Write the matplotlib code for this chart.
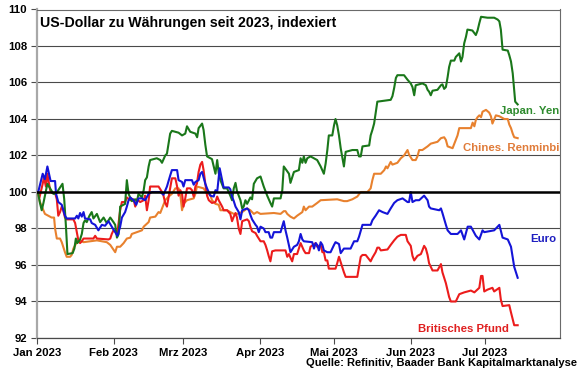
import matplotlib
matplotlib.use("Agg")
import matplotlib.pyplot as plt
import matplotlib.dates as mdates
from datetime import datetime

# ---- data: (days since 2023-01-01, index value) ----
yen = [(0.5,99.9),(1.2,99.4),(1.9,99.0),(2.6,99.4),(3.2,99.8),(4.2,100.45),(5.3,100.2),(6.6,99.9),(7.7,99.9),(8.6,100.1),(9.6,100.3),(10.3,100.45),(11,99.6),(11.7,98.1),(12.3,96.6),(14.4,96.65),(15.1,96.9),(15.7,97.45),(16.3,97.2),(17.4,97.4),(18.1,97.7),(18.8,98.3),(19.4,98.45),(20.1,98.35),(21.2,98.7),(22.1,98.9),(22.8,98.55),(24.2,98.8),(25.5,98.35),(26.9,98.6),(28.2,98.3),(29.6,98.6),(30.9,98.35),(31.6,98.2),(32.3,97.5),(33,97.7),(33.6,99.2),(35.6,99.35),(36.3,100.65),(37,99.9),(38.3,99.5),(39.7,99.6),(40.4,99.5),(41,99.9),(42.4,99.7),(43.1,100.1),(43.7,100.65),(44.4,100.8),(45.1,101.4),(45.7,101.75),(48.4,101.85),(49.8,101.75),(50.5,101.6),(51.8,102.0),(52.5,102.1),(53.8,103.2),(54.5,103.35),(57.2,103.25),(58.6,103.1),(59.9,103.2),(60.6,103.6),(61.9,103.3),(64,103.2),(64.7,103.0),(65.3,103.5),(66.7,103.75),(67.3,103.4),(68,102.6),(68.7,101.95),(70.7,101.8),(71.4,101.4),(72.1,101.0),(72.8,101.75),(73.4,101.05),(74.1,100.65),(75.4,100.2),(76.8,100.2),(78.1,99.8),(78.8,99.55),(79.5,100.2),(80.2,100.5),(80.8,100.05),(82.2,99.55),(82.9,99.1),(83.5,99.2),(84.2,99.55),(84.9,99.35),(86.2,99.7),(86.9,99.6),(87.6,100.45),(88.9,100.75),(90.3,100.85),(91.6,100.3),(93,99.8),(94.3,99.4),(95,99.2),(95.7,99.65),(98.4,99.65),(99.1,100.1),(99.7,101.4),(101.8,101.0),(102.4,100.5),(103.8,101.1),(105.8,101.2),(106.5,101.85),(107.2,101.6),(107.8,101.95),(108.5,101.6),(109.2,101.85),(110.5,101.95),(113.2,101.75),(114.6,101.4),(115.9,101.0),(116.6,101.55),(117.3,102.3),(117.9,103.1),(119.3,103.1),(120,103.65),(120.6,104.0),(121.3,103.65),(122,103.1),(122.7,102.4),(124,101.4),(124.7,102.2),(127.4,102.3),(129.4,102.3),(130.1,101.95),(130.8,101.95),(131.5,102.5),(134.2,102.55),(134.8,103.1),(135.5,103.4),(136.2,103.75),(136.8,104.3),(137.5,104.95),(142.9,105.05),(143.6,105.25),(144.3,105.7),(145,106.25),(145.6,106.4),(148.3,106.4),(149.7,106.15),(151,105.95),(151.7,105.75),(152.4,105.3),(153,105.85),(155.7,105.95),(157.1,105.85),(157.8,105.6),(158.4,105.5),(159.1,105.3),(159.8,105.55),(161.8,105.6),(163.2,105.85),(163.8,105.9),(164.5,105.65),(165.2,105.75),(165.9,106.3),(166.5,106.85),(167.2,107.2),(168.6,107.2),(169.2,107.4),(170.6,107.6),(171.3,107.15),(171.9,107.4),(172.6,108.15),(173.3,108.5),(173.9,108.9),(175.9,108.85),(177.3,108.6),(178,108.85),(178.7,109.25),(179.4,109.6),(182,109.55),(184.7,109.55),(186.1,109.45),(186.8,109.35),(187.4,108.9),(188.1,107.8),(190.2,107.75),(190.8,107.5),(191.5,107.15),(192.2,106.5),(192.8,105.6),(193.2,104.95),(194.2,104.8)]

cny = [(0.5,99.9),(1.2,99.45),(2.6,99.0),(3.2,98.8),(5.9,98.6),(6.9,98.6),(7.3,98.0),(8,97.45),(9.3,97.45),(10,97.25),(10.6,97.0),(11.3,96.7),(12,96.45),(13.4,96.45),(14,96.55),(14.7,96.9),(16.1,97.25),(17.4,97.35),(18.8,97.25),(24.2,97.35),(28.2,97.25),(29.6,97.1),(31.6,96.7),(32.3,97.0),(33.6,97.0),(35,97.2),(36.3,97.45),(37.7,97.5),(38.3,97.7),(40.4,97.8),(42.4,97.9),(43.1,98.1),(45.1,98.35),(45.7,98.6),(47.8,98.65),(49.1,98.9),(49.8,98.85),(51.1,99.3),(51.8,99.55),(53.2,99.75),(54.5,99.9),(55.9,100.2),(57.2,100.2),(57.9,99.85),(58.6,99.0),(59.2,99.35),(60.6,99.55),(63.3,99.65),(64,99.9),(64.6,100.3),(67.3,100.2),(68.7,99.9),(70,99.85),(70.7,99.55),(72.1,99.35),(73.4,99.3),(74.1,99.0),(76.8,99.0),(78.1,98.9),(79.5,98.8),(80.8,98.8),(82.9,98.9),(84.9,99.1),(86.2,99.0),(87.6,98.8),(88.9,98.9),(90.3,98.8),(95.7,98.85),(98.4,98.8),(99.7,98.95),(100.4,98.95),(101.1,98.8),(102.4,98.65),(103.8,98.55),(105.1,98.7),(107.2,98.9),(107.8,99.2),(108.5,99.0),(109.9,99.2),(111.2,99.2),(113.2,99.4),(114.6,99.55),(121.3,99.6),(124,99.5),(125.3,99.5),(127.4,99.6),(129.4,99.75),(130.8,100.0),(133.5,100.0),(134.8,100.2),(135.5,100.65),(136.2,101.0),(138.9,101.0),(140.3,101.2),(141,101.4),(141.6,101.3),(142.9,101.65),(143.6,101.5),(145.6,101.6),(147,101.85),(148.3,102.0),(149.7,102.3),(150.3,102.05),(151.7,101.75),(153,101.75),(153.7,101.95),(154.4,102.3),(155.7,102.3),(157.8,102.5),(159.1,102.65),(161.8,102.75),(163.2,102.95),(164.5,103.0),(165.2,102.85),(165.9,102.5),(167.9,102.4),(168.6,102.65),(169.9,103.1),(170.6,103.5),(175.3,103.5),(176,103.8),(176.7,103.6),(177.3,103.95),(178,104.1),(178.7,104.2),(179.4,104.1),(180,104.4),(181.4,104.5),(182.7,104.35),(183.4,104.15),(184,103.75),(185.4,104.2),(186.8,104.15),(188.8,104.0),(190.2,104.0),(190.8,103.7),(191.5,103.5),(192.2,103.2),(192.8,103.0),(194.2,102.95)]

eur = [(0.5,100.0),(2.3,101.0),(3.2,100.7),(4.2,101.4),(5.0,100.9),(5.5,100.6),(7.3,100.6),(7.7,99.9),(8.6,99.45),(10,99.3),(11.3,98.7),(12,98.55),(15.4,98.55),(16.1,98.7),(16.7,98.55),(17.4,98.85),(18.1,98.65),(18.8,98.9),(19.4,98.55),(21.5,98.5),(22.1,98.3),(23.5,98.2),(24.8,97.9),(26.2,98.2),(27.5,98.15),(28.9,98.4),(30.2,98.1),(31.6,97.8),(32.5,97.6),(33.6,98.1),(34.3,98.6),(35.6,98.9),(36.3,99.2),(37,99.55),(37.7,99.7),(39,99.55),(40.1,99.3),(41,99.65),(42.4,99.65),(43.7,99.55),(45.1,99.9),(46.4,100.0),(49.8,100.0),(51.1,99.85),(52.5,100.3),(53.8,100.9),(54.5,101.2),(56.6,101.2),(57.2,100.65),(58.6,100.55),(59.2,100.3),(59.9,100.65),(62.6,100.65),(63.3,100.4),(64,100.55),(65.3,100.65),(66,101.0),(66.7,101.1),(67.3,100.8),(68,100.45),(68.7,100.2),(70,99.8),(71.4,99.75),(72.1,100.1),(72.8,100.0),(73.8,101.3),(74.8,100.65),(75.4,100.25),(77.5,100.25),(78.1,100.15),(78.8,99.75),(79.5,99.5),(80.2,99.2),(81.5,98.9),(82.2,98.5),(82.9,99.0),(84.9,99.1),(85.6,99.0),(86.2,98.75),(86.9,98.5),(88.3,98.2),(88.9,98.1),(89.6,97.8),(90.3,98.1),(91.6,98.0),(92.3,97.8),(93.6,97.8),(94.3,97.5),(95,97.5),(95.7,97.8),(98.4,97.8),(99.7,98.4),(100.4,97.9),(101.1,97.5),(102.4,96.7),(103.8,97.0),(105.1,97.1),(105.8,97.3),(106.5,97.7),(107.2,97.4),(107.8,97.3),(111.2,97.25),(111.9,96.9),(112.6,97.2),(113.2,97.1),(113.9,96.8),(114.6,97.25),(115.3,97.1),(115.9,96.8),(117.3,96.7),(118.6,96.7),(120,97.1),(120.6,97.25),(122,97.15),(122.7,96.65),(124,96.9),(126.7,96.9),(128.1,97.3),(129.4,97.3),(130.1,97.55),(131.5,98.2),(133.5,98.2),(134.8,98.2),(135.5,98.45),(136.8,98.7),(138.2,99.0),(139.6,98.9),(141.6,98.8),(142.9,99.1),(144.3,99.4),(145.6,99.55),(147.7,99.65),(149.7,99.45),(150.3,99.45),(151,100.0),(151.7,99.45),(153,99.55),(154.4,99.55),(156.4,99.8),(157.8,99.55),(158.4,99.2),(159.1,99.1),(162.5,99.0),(163.2,99.1),(163.8,98.85),(165.2,98.2),(165.9,97.9),(167.2,97.7),(169.9,97.7),(171.3,97.9),(172.6,97.4),(174,98.1),(175.3,98.1),(177.3,97.6),(178.7,97.4),(180,97.9),(180.7,97.8),(184.7,97.9),(186.8,98.2),(188.1,97.5),(190.2,97.4),(191.5,97.0),(192.8,95.9),(194.2,95.3)]

gbp = [(0.5,100.0),(1,99.7),(2.3,100.45),(2.8,100.8),(3.6,100.3),(4.2,101.0),(5.3,100.1),(6,99.95),(7.3,99.95),(8,99.6),(8.6,98.7),(9.3,98.9),(10,99.2),(10.6,99.0),(11.3,98.6),(12,98.5),(14.7,98.5),(15.4,98.3),(16.1,97.8),(16.7,97.35),(17.4,97.2),(18.1,97.3),(18.8,97.45),(22.8,97.45),(23.5,97.6),(24.2,97.45),(28.9,97.4),(29.6,97.45),(30.2,97.7),(30.9,97.9),(32.5,97.8),(33.6,99.0),(34.3,99.45),(35.6,99.45),(36.3,99.7),(37.7,99.55),(39,99.6),(39.7,99.2),(40.4,99.6),(41.7,99.45),(43.1,99.55),(43.7,99.8),(44.4,99.0),(45.1,99.55),(45.7,100.3),(49.1,100.3),(50.5,100.0),(51.1,99.8),(51.8,99.4),(52.5,99.2),(53.2,99.75),(53.8,100.2),(54.5,100.75),(55.9,100.75),(56.6,100.3),(57.2,99.8),(57.9,100.1),(58.6,99.9),(59.2,99.2),(59.9,99.65),(60.6,100.2),(61.9,100.2),(62.6,100.1),(63.3,99.75),(64,100.3),(64.6,100.45),(65.3,101.1),(66,101.5),(66.7,101.65),(67.3,101.2),(68,100.45),(68.7,99.8),(69.4,99.55),(70.7,99.4),(72.1,99.45),(72.8,99.75),(73.4,99.55),(74.8,99.2),(75.4,99.0),(76.8,99.0),(78.1,98.8),(78.8,98.4),(79.5,98.65),(80.2,98.85),(80.8,98.6),(81.5,98.0),(82.2,97.7),(82.9,98.4),(84.9,98.5),(85.6,98.4),(86.2,98.1),(86.9,97.85),(88.3,97.75),(88.9,97.6),(90.3,97.3),(91.6,97.3),(92.3,97.1),(93,96.8),(93.6,96.5),(94.3,96.2),(95,96.75),(96.3,96.8),(100.4,96.8),(101.1,96.45),(101.8,96.6),(102.4,96.4),(103.1,96.2),(103.8,96.6),(105.1,96.6),(106.5,97.2),(107.8,96.8),(108.5,96.65),(109.9,96.65),(110.5,97.0),(112.6,97.2),(113.2,97.0),(114.6,97.1),(115.3,96.7),(115.9,96.7),(116.6,96.25),(117.3,96.25),(117.9,95.8),(120.6,95.8),(121.3,96.1),(122,96.45),(122.7,96.15),(123.3,95.9),(124,95.6),(124.7,95.35),(129.4,95.35),(130.1,95.9),(130.8,96.45),(131.5,96.55),(132.8,96.55),(134.2,96.3),(134.8,96.2),(135.5,96.4),(136.8,96.7),(137.5,96.95),(138.2,96.95),(138.9,96.8),(141.6,96.85),(142.9,97.1),(144.3,97.35),(145.6,97.55),(147,97.65),(149,97.65),(149.7,97.3),(151,97.05),(151.7,96.5),(152.4,96.25),(153.7,96.5),(155.1,96.6),(155.7,96.8),(156.4,97.05),(157.1,96.9),(157.8,96.55),(158.4,96.1),(159.8,95.7),(161.8,95.7),(163.2,96.05),(163.8,95.6),(165.2,95.0),(166.5,94.25),(167.2,94.0),(169.2,94.0),(170.6,94.4),(172.6,94.5),(175.3,94.6),(176.7,94.5),(178.7,94.75),(179.4,95.4),(180,95.4),(180.7,94.55),(182,94.65),(184,94.75),(184.7,94.55),(186.8,94.75),(187.4,94.1),(188.1,93.75),(190.8,93.8),(191.5,93.4),(192.8,92.7),(194.2,92.7)]

month_labels = ["Jan 2023", "Feb 2023", "Mrz 2023", "Apr 2023", "Mai 2023", "Jun 2023", "Jul 2023"]
y_ticks = [92, 94, 96, 98, 100, 102, 104, 106, 108, 110]

title = "US-Dollar zu Währungen seit 2023, indexiert"
source = "Quelle: Refinitiv, Baader Bank Kapitalmarktanalyse"

# ---- styling ----
plt.rcParams["font.family"] = ["Liberation Sans", "DejaVu Sans"]
plt.rcParams["font.weight"] = "bold"

C_YEN = "#1a771a"
C_CNY = "#e8812e"
C_EUR = "#1414d8"
C_GBP = "#ec1c1c"

fig = plt.figure(figsize=(5.8, 3.75), dpi=100)
ax = fig.add_axes([37/580, 1-338/375, (560-37)/580, (338-9.5)/375])

base = mdates.date2num(datetime(2023, 1, 1))

def xs(series):
    return [base + d for d, v in series]

def ys(series):
    return [v for d, v in series]

for s, c in [(cny, C_CNY), (gbp, C_GBP), (yen, C_YEN), (eur, C_EUR)]:
    ax.plot(xs(s), ys(s), color=c, lw=1.5, zorder=3, solid_joinstyle="round")

ax.axhline(100, color="black", lw=1.8, zorder=4)

ax.set_ylim(92, 110)
ax.set_yticks(y_ticks)
ax.set_xlim(base, mdates.date2num(datetime(2023, 7, 31)) + 0.3)
month_pos = [mdates.date2num(datetime(2023, m, 1)) for m in range(1, 8)]
ax.set_xticks(month_pos)
ax.set_xticklabels(month_labels)

ax.yaxis.grid(True, color="#4a4a4a", lw=0.8)
ax.set_axisbelow(True)
for sp in ["top", "right"]:
    ax.spines[sp].set_color("#6a6a6a")
    ax.spines[sp].set_linewidth(0.8)
ax.spines["left"].set_color("#a8a8a8")
ax.spines["left"].set_linewidth(1.6)
ax.spines["bottom"].set_color("#4a4a4a")
ax.spines["bottom"].set_linewidth(0.9)

ax.tick_params(axis="both", direction="out", length=4, width=0.8, color="#4a4a4a",
               labelsize=8.2, pad=3)
for lab in ax.get_xticklabels() + ax.get_yticklabels():
    lab.set_fontweight("bold")

# series labels
ax.text(base + 211, 104.45, "Japan. Yen", color="#2e8b2e", fontsize=8.2,
        fontweight="bold", ha="right", va="center")
ax.text(base + 211, 102.4, "Chines. Renminbi", color="#e07b39", fontsize=8.2,
        fontweight="bold", ha="right", va="center")
ax.text(base + 210, 97.4, "Euro", color="#1f1fc0", fontsize=8.2,
        fontweight="bold", ha="right", va="center")
ax.text(base + 190.5, 92.5, "Britisches Pfund", color="#e02020", fontsize=8.2,
        fontweight="bold", ha="right", va="center")

fig.text(40/580, 1-23/375, title, fontsize=10.2, fontweight="bold", ha="left", va="center")
fig.text(577/580, 1-363.5/375, source, fontsize=8.0, fontweight="bold", ha="right", va="center")

fig.savefig("out.png", dpi=100)
